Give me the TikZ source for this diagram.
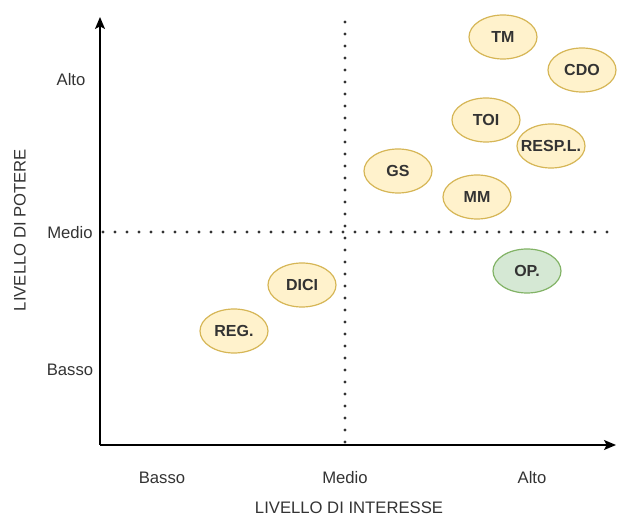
\documentclass[tikz,border=0pt]{standalone}
\usepackage{fontspec}
\setmainfont{Liberation Sans}
\usetikzlibrary{arrows.meta,shapes.geometric}
\usepackage{xcolor}
\definecolor{colorfff2cc}{HTML}{FFF2CC}
\definecolor{colord6b656}{HTML}{D6B656}
\definecolor{colord5e8d4}{HTML}{D5E8D4}
\definecolor{color82b366}{HTML}{82B366}
\definecolor{color333333}{HTML}{333333}

\begin{document}
\begin{tikzpicture}
    [>={Stealth[length=9pt,width=7.5pt,inset=2pt]},  % Uniform arrow style
     x=0.75pt, y=-0.75pt,
     axis/.style={draw=black, line width=1.1pt},
     dotline/.style={draw=color333333, line width=2.5pt, line cap=round, dash pattern=on 0pt off 9pt},
     ticklabel/.style={text=color333333, font=\fontsize{12.5}{14}\selectfont},
     stakeholder/.style={ellipse, fill=colorfff2cc, draw=colord6b656, line width=0.9pt, minimum width=51pt, minimum height=33pt, inner xsep=-6pt, inner ysep=0pt, text=color333333, font=\fontsize{12}{14}\selectfont\bfseries},
     stakeholdergreen/.style={stakeholder, fill=colord5e8d4, draw=color82b366},
    ]

\useasboundingbox (0,0) rectangle (618,516);

% axes
\coordinate (origin) at (100,445);
\coordinate (ytop) at (100,17);
\coordinate (xend) at (616,445);
\draw[axis,->] (origin) -- (ytop);
\draw[axis,->] (origin) -- (xend);

% dotted split
\coordinate (vtop) at (345,22);
\coordinate (vbot) at (345,445);
\coordinate (hleft) at (103,232);
\coordinate (hright) at (610,232);
\draw[dotline] (vtop) -- (vbot);
\draw[dotline] (hleft) -- (hright);

% tick labels
\node[ticklabel] (y_alto) at (71,80) {Alto};
\node[ticklabel] (y_medio) at (70,233) {Medio};
\node[ticklabel] (y_basso) at (70,370) {Basso};
\node[ticklabel] (x_basso) at (162,478) {Basso};
\node[ticklabel] (x_medio) at (345,478) {Medio};
\node[ticklabel] (x_alto) at (532,478) {Alto};
\node[ticklabel] (x_title) at (349,508) {LIVELLO DI INTERESSE};
\node[ticklabel, rotate=90] (y_title) at (20,230) {LIVELLO DI POTERE};

% stakeholders
\node[stakeholder] (node_tm) at (503,37) {TM};
\node[stakeholder] (node_cdo) at (582,70) {CDO};
\node[stakeholder] (node_toi) at (486,120) {TOI};
\node[stakeholder] (node_respl) at (551,146) {RESP.L.};
\node[stakeholder] (node_gs) at (398,171) {GS};
\node[stakeholder] (node_mm) at (477,197) {MM};
\node[stakeholdergreen] (node_op) at (527,271) {OP.};
\node[stakeholder] (node_dici) at (302,285) {DICI};
\node[stakeholder] (node_reg) at (234,331) {REG.};

\end{tikzpicture}
\end{document}
